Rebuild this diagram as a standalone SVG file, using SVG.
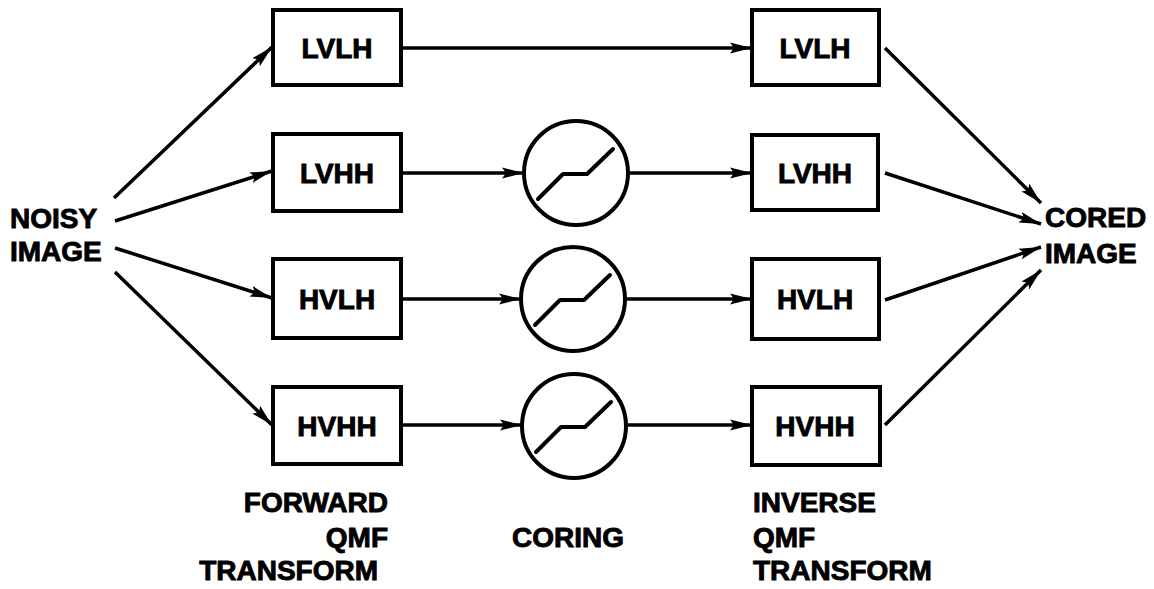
<svg xmlns="http://www.w3.org/2000/svg" width="1154" height="589" viewBox="0 0 1154 589">
<style>
.box{fill:#fff;stroke:#000;stroke-width:4}
.circ{fill:#fff;stroke:#000;stroke-width:4}
.curve{fill:none;stroke:#000;stroke-width:4;stroke-linecap:round;stroke-linejoin:round}
.lbl{font-family:"Liberation Sans",Arial,sans-serif;font-weight:bold;font-size:28px;fill:#000;stroke:#000;stroke-width:0.9}
.c{text-anchor:middle}
.e{text-anchor:end}
.conn{fill:none;stroke:#000;stroke-width:3.5;marker-end:url(#ah)}
</style>
<defs>
<marker id="ah" markerUnits="userSpaceOnUse" markerWidth="24" markerHeight="14" refX="22" refY="7" orient="auto">
<path d="M0,1.5 L22,7 L0,12.5 L4,7 Z" fill="#000"/>
</marker>
</defs>
<rect width="1154" height="589" fill="#fff"/>
<g id="connectors">
<line class="conn" x1="114" y1="198" x2="272" y2="47"/>
<line class="conn" x1="115" y1="221" x2="272" y2="171"/>
<line class="conn" x1="115" y1="248" x2="272" y2="298"/>
<line class="conn" x1="115" y1="272" x2="272" y2="425"/>
<line class="conn" x1="401" y1="48" x2="752" y2="48"/>
<line class="conn" x1="401" y1="173" x2="524" y2="173"/>
<line class="conn" x1="628" y1="173" x2="752" y2="173"/>
<line class="conn" x1="401" y1="299" x2="521" y2="299"/>
<line class="conn" x1="625" y1="299" x2="752" y2="299"/>
<line class="conn" x1="401" y1="425" x2="522" y2="425"/>
<line class="conn" x1="626" y1="425" x2="752" y2="425"/>
<line class="conn" x1="885" y1="48" x2="1041" y2="203"/>
<line class="conn" x1="885" y1="173" x2="1041" y2="224"/>
<line class="conn" x1="885" y1="300" x2="1041" y2="247"/>
<line class="conn" x1="885" y1="425" x2="1041" y2="270"/>
</g>
<g id="noisy">
<text class="lbl" x="10" y="228">NOISY</text>
<text class="lbl" x="10" y="261">IMAGE</text>
</g>
<g id="cored">
<text class="lbl" x="1045" y="227">CORED</text>
<text class="lbl" x="1045" y="263">IMAGE</text>
</g>
<g id="f_lvlh"><rect class="box" x="273" y="10" width="128" height="75"/><text class="lbl c" x="337" y="58">LVLH</text></g>
<g id="f_lvhh"><rect class="box" x="273" y="134" width="128" height="77"/><text class="lbl c" x="337" y="183">LVHH</text></g>
<g id="f_hvlh"><rect class="box" x="273" y="259" width="128" height="79"/><text class="lbl c" x="337" y="309">HVLH</text></g>
<g id="f_hvhh"><rect class="box" x="273" y="387" width="128" height="77"/><text class="lbl c" x="337" y="436">HVHH</text></g>
<g id="i_lvlh"><rect class="box" x="752" y="10" width="127" height="75"/><text class="lbl c" x="815" y="58">LVLH</text></g>
<g id="i_lvhh"><rect class="box" x="752" y="135" width="126" height="75"/><text class="lbl c" x="815" y="183">LVHH</text></g>
<g id="i_hvlh"><rect class="box" x="752" y="259" width="127" height="80"/><text class="lbl c" x="815" y="309">HVLH</text></g>
<g id="i_hvhh"><rect class="box" x="752" y="387" width="128" height="78"/><text class="lbl c" x="815" y="436">HVHH</text></g>
<g id="core1"><circle class="circ" cx="576" cy="173" r="52"/><path class="curve" d="M538,199 L563,174 L587,174 L613,149"/></g>
<g id="core2"><circle class="circ" cx="573" cy="299" r="52"/><path class="curve" d="M535,325 L560,300 L584,300 L610,275"/></g>
<g id="core3"><circle class="circ" cx="574" cy="426" r="52"/><path class="curve" d="M536,452 L561,427 L585,427 L611,402"/></g>
<g id="lbl_forward">
<text class="lbl e" x="388" y="512">FORWARD</text>
<text class="lbl e" x="388" y="547">QMF</text>
<text class="lbl e" x="378" y="580">TRANSFORM</text>
</g>
<g id="lbl_coring"><text class="lbl c" x="568" y="547">CORING</text></g>
<g id="lbl_inverse">
<text class="lbl" x="753" y="512">INVERSE</text>
<text class="lbl" x="753" y="547">QMF</text>
<text class="lbl" x="753" y="580">TRANSFORM</text>
</g>
</svg>
